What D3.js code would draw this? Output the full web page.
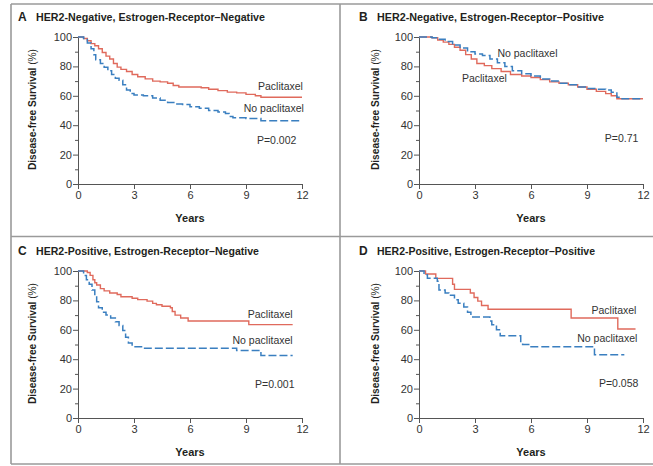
<!DOCTYPE html>
<html>
<head>
<meta charset="utf-8">
<script src="https://cdn.jsdelivr.net/npm/d3@7"></script>
<style>
  html, body { margin: 0; padding: 0; background: #fff; }
  svg { display: block; font-family: "Liberation Sans", Arial, sans-serif; }
</style>
</head>
<body>
<svg id="chart" width="653" height="466"></svg>
<script>
// ---------- data (years, % disease-free survival) ----------
const xTicks = [0, 3, 6, 9, 12];
const yTicks = [0, 20, 40, 60, 80, 100];
const yMinorTicks = [10, 30, 50, 70, 90];
const panelLetters = ["A", "B", "C", "D"];
const panelTitles = [
  "HER2-Negative, Estrogen-Receptor\u2013Negative",
  "HER2-Negative, Estrogen-Receptor\u2013Positive",
  "HER2-Positive, Estrogen-Receptor\u2013Negative",
  "HER2-Positive, Estrogen-Receptor\u2013Positive"
];
const pValues = ["P=0.002", "P=0.71", "P=0.001", "P=0.058"];
const seriesNames = ["Paclitaxel", "No paclitaxel"];

const panelA_paclitaxel = [[0,100],[0.3,99],[0.5,97.5],[0.7,95.5],[0.9,94],[1.1,92],[1.3,89.5],[1.5,87],[1.7,85],[1.9,82],[2.1,79.5],[2.3,78],[2.6,76.5],[2.9,74.5],[3.2,73],[3.6,71.5],[4.0,70],[4.4,69.5],[4.8,68.5],[5.1,67],[5.4,66],[6.6,65.5],[7.0,64.5],[7.5,63.5],[8.0,62.5],[8.5,62],[9.0,61],[9.5,60],[9.8,59],[12,59]];
const panelA_noPaclitaxel = [[0,100],[0.3,99],[0.5,96],[0.7,92],[0.85,88],[0.95,84.5],[1.2,82],[1.4,79.5],[1.6,77],[1.8,74.5],[2.0,72],[2.2,70.5],[2.4,67.5],[2.6,64],[2.8,61.5],[3.0,60.5],[3.5,60],[4.0,58.5],[4.4,57],[4.8,55.5],[5.2,54.5],[5.6,54],[6.0,52.5],[6.5,51.5],[7.0,50],[7.5,49],[7.9,48],[8.1,46],[8.3,45],[9.0,44.5],[9.8,43],[12,43]];

const panelB_paclitaxel = [[0,100],[0.7,99.5],[1.0,98],[1.3,96.5],[1.6,95],[1.9,93],[2.2,91],[2.5,88],[2.8,85],[3.1,82],[3.5,80.5],[3.9,78.5],[4.4,76.5],[4.9,74.5],[5.5,73.5],[6.0,72.5],[6.5,71],[7.0,69.5],[7.5,68.5],[8.0,67.5],[8.5,66],[9.0,64.5],[9.5,63],[10.0,61.5],[10.3,60],[10.6,58],[12,58]];
const panelB_noPaclitaxel = [[0,100],[0.7,99.5],[1.0,98.5],[1.4,97],[1.8,94.5],[2.2,92.5],[2.6,90],[3.0,88.5],[3.4,87.5],[3.8,85],[4.2,82.5],[4.6,80],[5.0,77],[5.5,75],[6.0,73.5],[6.5,71.5],[7.0,70],[7.5,68.5],[8.0,67.5],[8.5,66],[9.0,65],[9.5,64.5],[10.0,64],[10.3,62.5],[10.6,59],[10.8,58],[12,58]];

const panelC_paclitaxel = [[0,100],[0.5,99],[0.65,97],[0.8,94],[0.9,92],[1.0,90.5],[1.2,88],[1.4,86.5],[1.7,85],[2.1,84],[2.3,82.5],[2.9,81.5],[3.2,80.5],[3.7,79.5],[4.0,78],[4.2,77],[4.5,76],[4.95,75],[5.05,72.5],[5.2,70],[5.5,68],[5.9,66],[9.15,63.5],[11.5,63.5]];
const panelC_noPaclitaxel = [[0,100],[0.3,97],[0.45,94],[0.6,91],[0.75,87],[0.9,83],[1.0,79],[1.1,75],[1.3,72],[1.5,70],[1.75,68],[2.0,65.5],[2.2,63],[2.4,59.5],[2.55,55],[2.7,51],[2.9,48.5],[3.5,47.5],[8.5,46],[9.8,42.5],[11.5,42.5]];

const panelD_paclitaxel = [[0,100],[0.35,98],[0.9,95],[1.8,91],[1.9,87.5],[2.75,85],[2.95,82],[3.15,79.5],[3.35,76.5],[3.7,74],[8.15,68],[10.65,60.5],[11.6,60.5]];
const panelD_noPaclitaxel = [[0,100],[0.27,97.5],[0.45,95],[0.98,93],[1.07,87],[1.4,85],[1.6,83.5],[1.9,80.5],[2.1,78],[2.4,75.5],[2.6,72],[2.78,68.7],[3.8,66],[3.9,63.5],[4.15,60],[4.35,56],[5.45,51.5],[5.55,50],[6.0,48.5],[9.4,43],[11.0,43]];

const paclitaxelSeries = [panelA_paclitaxel, panelB_paclitaxel, panelC_paclitaxel, panelD_paclitaxel];
const noPaclitaxelSeries = [panelA_noPaclitaxel, panelB_noPaclitaxel, panelC_noPaclitaxel, panelD_noPaclitaxel];

// ---------- layout / style ----------
const RED = "#e06a5c";
const BLUE = "#3a7fc0";
const TEXT = "#231f20";
const panelOrigins = [[0,0],[341,0],[0,234],[341,234]];
const plot = {left: 78, top: 37, width: 224, height: 147};
// annotation anchors in data space [x, y, anchor]
const labelPos = [
  {pac:[12.05,64,"end"], no:[12.1,49,"end"], p:[11.7,27,"end"]},
  {pac:[2.3,69.4,"start"], no:[4.2,86.4,"start"], p:[11.75,28.6,"end"]},
  {pac:[11.5,68,"end"], no:[11.5,50.3,"end"], p:[11.6,20.4,"end"]},
  {pac:[11.65,70.7,"end"], no:[11.7,51.7,"end"], p:[11.75,21.1,"end"]}
];
const titleLen = [229, 227, 223, 218];

const svg = d3.select("#chart");

// frame
const frame = svg.append("g").attr("stroke", "#9a9a9a").attr("stroke-width", 1.6).attr("fill", "none");
frame.append("line").attr("x1", 11).attr("x2", 653).attr("y1", 4).attr("y2", 4);
frame.append("line").attr("x1", 11).attr("x2", 653).attr("y1", 464).attr("y2", 464);
frame.append("line").attr("x1", 11).attr("x2", 11).attr("y1", 4).attr("y2", 464);
frame.append("line").attr("x1", 340).attr("x2", 340).attr("y1", 4).attr("y2", 464);
frame.append("line").attr("x1", 11).attr("x2", 653).attr("y1", 236.5).attr("y2", 236.5);

panelLetters.forEach((letter, i) => {
  const [ox, oy] = panelOrigins[i];
  const g = svg.append("g").attr("transform", `translate(${ox},${oy})`);

  const x = d3.scaleLinear().domain([0, 12]).range([plot.left, plot.left + plot.width]);
  const y = d3.scaleLinear().domain([0, 100]).range([plot.top + plot.height, plot.top]);

  // title
  g.append("text").attr("x", 18).attr("y", 21).attr("font-size", 12).attr("font-weight", "bold")
    .attr("fill", TEXT).text(letter);
  g.append("text").attr("x", 36).attr("y", 21).attr("font-size", 11).attr("font-weight", "bold")
    .attr("fill", TEXT).attr("textLength", titleLen[i]).attr("lengthAdjust", "spacingAndGlyphs")
    .text(panelTitles[i]);

  // y axis
  const yAxis = d3.axisLeft(y).tickValues(yTicks).tickSize(5).tickPadding(1).tickFormat(d3.format("d"));
  const ya = g.append("g").attr("transform", `translate(${plot.left},0)`).call(yAxis);
  ya.select(".domain").attr("stroke", "#555").attr("stroke-width", 1);
  ya.selectAll(".tick line").attr("stroke", "#555");
  ya.selectAll(".tick text").attr("font-size", 11).attr("fill", "#333")
    .attr("font-family", "Liberation Sans, Arial, sans-serif");
  const yMinor = d3.axisLeft(y).tickValues(yMinorTicks).tickSize(3).tickFormat("");
  const ym = g.append("g").attr("transform", `translate(${plot.left},0)`).call(yMinor);
  ym.select(".domain").remove();
  ym.selectAll(".tick line").attr("stroke", "#555");

  // x axis
  const xAxis = d3.axisBottom(x).tickValues(xTicks).tickSize(5).tickPadding(2).tickFormat(d3.format("d"));
  const xa = g.append("g").attr("transform", `translate(0,${plot.top + plot.height})`).call(xAxis);
  xa.select(".domain").attr("stroke", "#555").attr("stroke-width", 1);
  xa.selectAll(".tick line").attr("stroke", "#555");
  xa.selectAll(".tick text").attr("font-size", 11).attr("fill", "#333")
    .attr("font-family", "Liberation Sans, Arial, sans-serif");

  // axis titles
  g.append("text").attr("x", plot.left + plot.width / 2).attr("y", plot.top + plot.height + 38)
    .attr("text-anchor", "middle").attr("font-size", 11).attr("font-weight", "bold").attr("fill", TEXT)
    .text("Years");
  const yt = g.append("text")
    .attr("transform", `translate(${i % 2 === 0 ? 36 : 38},${plot.top + plot.height / 2 - 1}) rotate(-90)`)
    .attr("text-anchor", "middle").attr("font-size", 11).attr("fill", TEXT)
    .attr("textLength", 121).attr("lengthAdjust", "spacingAndGlyphs");
  yt.append("tspan").attr("font-weight", "bold").text("Disease-free Survival ");
  yt.append("tspan").text("(%)");

  // curves
  const line = d3.line().x(d => x(d[0])).y(d => y(d[1])).curve(d3.curveStepAfter);
  g.append("path").datum(paclitaxelSeries[i]).attr("d", line)
    .attr("fill", "none").attr("stroke", RED).attr("stroke-width", 1.4);
  g.append("path").datum(noPaclitaxelSeries[i]).attr("d", line)
    .attr("fill", "none").attr("stroke", BLUE).attr("stroke-width", 1.5)
    .attr("stroke-dasharray", "8,3");

  // labels
  const lp = labelPos[i];
  const addLabel = (pos, txt) => g.append("text").attr("x", x(pos[0])).attr("y", y(pos[1]))
    .attr("text-anchor", pos[2]).attr("font-size", 10.5).attr("fill", "#333").text(txt);
  addLabel(lp.pac, seriesNames[0]);
  addLabel(lp.no, seriesNames[1]);
  addLabel(lp.p, pValues[i]);
});
</script>
</body>
</html>
